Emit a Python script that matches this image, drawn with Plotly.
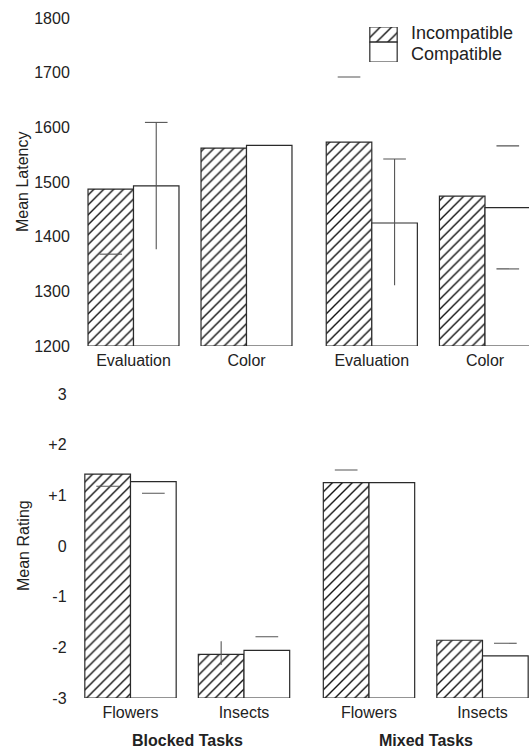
import plotly.graph_objects as go

# ---------------- data ----------------
series_names = ["Incompatible", "Compatible"]
task_groups = ["Blocked Tasks", "Mixed Tasks"]

latency_categories = ["Evaluation", "Color", "Evaluation", "Color"]
latency_incompatible = [1487, 1562, 1573, 1474]
latency_compatible = [1493, 1567, 1425, 1453]
latency_ticks = [1200, 1300, 1400, 1500, 1600, 1700, 1800]
latency_tick_labels = ["1200", "1300", "1400", "1500", "1600", "1700", "1800"]

rating_categories = ["Flowers", "Insects", "Flowers", "Insects"]
rating_incompatible = [1.42, -2.14, 1.25, -1.86]
rating_compatible = [1.27, -2.06, 1.25, -2.17]
rating_ticks = [-3, -2, -1, 0, 1, 2, 3]
rating_tick_labels = ["-3", "-2", "-1", "0", "+1", "+2", "3"]

# error-bar pieces that survive in the printed figure (caps and stems)
latency_caps_incompatible = [[1368], [], [1692], []]
latency_caps_compatible = [[1609], [], [1542], [1341, 1566]]
latency_stems_incompatible = [None, None, None, None]
latency_stems_compatible = [[1377, 1609], None, [1311, 1542], None]

rating_caps_incompatible = [[1.18], [], [1.50], []]
rating_caps_compatible = [[1.04], [-1.79], [], [-1.92]]
rating_stems_incompatible = [None, [-2.35, -1.88], None, None]
rating_stems_compatible = [None, None, None, None]

# ---------------- style ----------------
FONT = "Liberation Sans, Arial, sans-serif"
TXT = "#222222"
EDGE = "#2a2a2a"
ERR = "#555555"
BAR_W = 0.4025
OFFS = [-BAR_W / 2, BAR_W / 2]
CAP_HALF = 0.1
HATCH = dict(shape="/", fgcolor="#111111", bgcolor="white", size=7, solidity=0.2)

W, H = 529, 748
def px(x):
    return x / W
def py(y):
    return (H - y) / H

fig = go.Figure()

panels = {
    ("lat", 0): ("x", "y"),
    ("lat", 1): ("x2", "y"),
    ("rat", 0): ("x3", "y2"),
    ("rat", 1): ("x4", "y2"),
}

def add_panel(key, inc, com, caps_inc, caps_com, stems_inc, stems_com):
    base = latency_ticks[0] if key == "lat" else rating_ticks[0]
    for g in range(2):
        xa, ya = panels[(key, g)]
        idx = [0, 1]
        sl = slice(2 * g, 2 * g + 2)
        for s, (vals, name) in enumerate([(inc, series_names[0]), (com, series_names[1])]):
            v = vals[sl]
            fig.add_trace(go.Bar(
                x=[i + OFFS[s] for i in idx],
                y=[val - base for val in v],
                base=base,
                width=BAR_W,
                name=name,
                showlegend=False,
                xaxis=xa, yaxis=ya,
                marker=dict(
                    color="white",
                    pattern=HATCH if s == 0 else dict(shape=""),
                    line=dict(color=EDGE, width=1.2),
                ),
                hoverinfo="skip",
            ))
        xs, ys = [], []
        for s, (caps, stems) in enumerate([(caps_inc, stems_inc), (caps_com, stems_com)]):
            for i in idx:
                k = 2 * g + i
                cx = i + OFFS[s]
                for c in caps[k]:
                    xs += [cx - CAP_HALF, cx + CAP_HALF, None]
                    ys += [c, c, None]
                if stems[k] is not None:
                    xs += [cx, cx, None]
                    ys += [stems[k][0], stems[k][1], None]
        fig.add_trace(go.Scatter(x=xs, y=ys, mode="lines", xaxis=xa, yaxis=ya,
                                 line=dict(color=ERR, width=1.1), showlegend=False,
                                 hoverinfo="skip", cliponaxis=False))

add_panel("lat", latency_incompatible, latency_compatible,
          latency_caps_incompatible, latency_caps_compatible,
          latency_stems_incompatible, latency_stems_compatible)
add_panel("rat", rating_incompatible, rating_compatible,
          rating_caps_incompatible, rating_caps_compatible,
          rating_stems_incompatible, rating_stems_compatible)

# legend swatches drawn as bars on a small hidden axis (box heights follow the print)
fig.add_trace(go.Bar(
    x=[1, 1], y=[0.785, 0.285], width=[0.43, 0.57], orientation="h",
    xaxis="x5", yaxis="y5",
    marker=dict(color="white", line=dict(color=EDGE, width=1.2),
                pattern=dict(shape=["/", ""], fgcolor="#111111", bgcolor="white",
                             size=8, solidity=0.18)),
    showlegend=False, hoverinfo="skip",
))

tickfont = dict(family=FONT, size=16, color=TXT)
noline = dict(showgrid=False, zeroline=False, showline=False)

def xaxis(dom, rng, anchor, cats):
    return dict(domain=dom, range=rng, anchor=anchor, tickvals=[0, 1], ticktext=cats,
                ticks="", ticklabelstandoff=3,
                tickfont=tickfont, fixedrange=True, **noline)

fig.update_layout(
    width=W, height=H,
    margin=dict(l=0, r=0, t=0, b=0),
    paper_bgcolor="white", plot_bgcolor="white",
    template="none",
    barmode="overlay",
    showlegend=False,
    xaxis=xaxis([px(77), px(303)], [-0.5, 1.5], "y", latency_categories[:2]),
    xaxis2=xaxis([px(315.2), 1.0], [-0.5, -0.5 + (529 - 315.2) / 113.2], "y", latency_categories[2:]),
    xaxis3=xaxis([px(73.75), px(300.75)], [-0.5, 1.5], "y2", rating_categories[:2]),
    xaxis4=xaxis([px(312.25), 1.0], [-0.5, -0.5 + (529 - 312.25) / 113.5], "y2", rating_categories[2:]),
    yaxis=dict(domain=[py(346), py(18)], range=[1200, 1800], anchor="x",
               tickvals=latency_ticks, ticktext=latency_tick_labels,
               ticks="outside", ticklen=3, tickcolor="rgba(0,0,0,0)",
               tickfont=tickfont, fixedrange=True, **noline),
    yaxis2=dict(domain=[py(698), py(394)], range=[-3, 3], anchor="x3",
                tickvals=rating_ticks, ticktext=rating_tick_labels,
                ticks="outside", ticklen=3, tickcolor="rgba(0,0,0,0)",
                tickfont=tickfont, fixedrange=True, **noline),
    xaxis5=dict(domain=[px(369), px(398)], range=[-0.03, 1.03], anchor="y5",
                visible=False, fixedrange=True, **noline),
    yaxis5=dict(domain=[py(62), py(27)], range=[0, 1], anchor="x5",
                visible=False, fixedrange=True, **noline),
)

annos = [
    dict(text="Mean Latency", x=px(23), y=py(182), textangle=-90),
    dict(text="Mean Rating", x=px(23), y=py(546), textangle=-90),
]
for a in annos:
    fig.add_annotation(xref="paper", yref="paper", showarrow=False,
                       font=dict(family=FONT, size=16, color=TXT),
                       xanchor="center", yanchor="middle", **a)

for xa, label in [("x3", task_groups[0]), ("x4", task_groups[1])]:
    fig.add_annotation(xref=xa, yref="paper", x=0.5, y=py(740), text="<b>%s</b>" % label,
                       showarrow=False, xanchor="center", yanchor="middle",
                       font=dict(family=FONT, size=16, color=TXT))

for yp, name in [(33, series_names[0]), (54, series_names[1])]:
    fig.add_annotation(xref="paper", yref="paper", x=px(409), y=py(yp), text=name,
                       showarrow=False, xanchor="left", yanchor="middle",
                       font=dict(family=FONT, size=18, color=TXT))

fig.write_html("out.html", config={"displayModeBar": False},
               post_script="document.body.style.margin='0px';")
